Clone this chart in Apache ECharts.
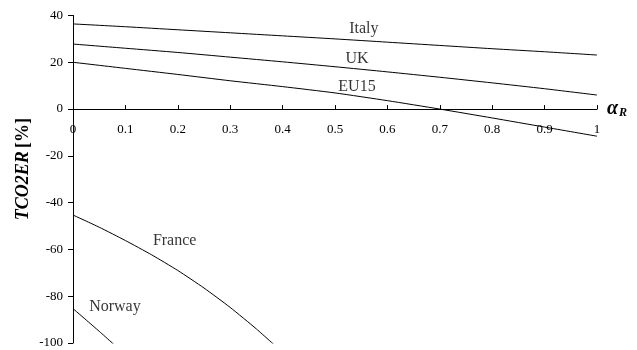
<!DOCTYPE html>
<html>
<head>
<meta charset="utf-8">
<script src="https://cdn.jsdelivr.net/npm/echarts@6/dist/echarts.min.js"></script>
<style>html,body{margin:0;padding:0;background:#fff}#c{width:637px;height:350px}</style>
</head>
<body>
<div id="c"></div>
<script>
// x values (alpha_R)
var xMain = [0, 0.1, 0.2, 0.3, 0.4, 0.5, 0.6, 0.7, 0.8, 0.9, 1.0];
var italy  = [36.4, 35.2, 33.9, 32.6, 31.3, 30.0, 28.6, 27.2, 25.8, 24.5, 23.1];
var uk     = [27.8, 26.0, 24.2, 22.2, 20.2, 18.1, 15.9, 13.6, 11.2, 8.7, 6.0];
var eu15   = [20.0, 17.4, 14.8, 12.1, 9.6, 6.9, 3.6, 0.0, -3.8, -7.7, -11.6];
var xFrance = [0, 0.05, 0.1, 0.15, 0.2, 0.25, 0.3, 0.35, 0.4];
var france  = [-45.3, -50.5, -56.2, -62.3, -69.0, -76.5, -84.8, -94.0, -104.0];
var xNorway = [0, 0.05, 0.1];
var norway  = [-85.3, -95.0, -105.0];

var labelNames = ['Italy', 'UK', 'EU15', 'France', 'Norway'];
var labelX = [0.555, 0.542, 0.542, 0.194, 0.080];
var labelY = [34.3, 21.5, 9.5, -56.5, -84.7];

var xTickLabels = ['0', '0.1', '0.2', '0.3', '0.4', '0.5', '0.6', '0.7', '0.8', '0.9', '1'];
var yTickLabels = ['-100', '-80', '-60', '-40', '-20', '0', '20', '40'];

function pairs(xs, ys) { return xs.map(function (x, i) { return [x, ys[i]]; }); }

var FONT = '"Liberation Serif", "Times New Roman", serif';
var lineStyle = { color: '#000', width: 1 };
function lineSeries(name, xs, ys) {
  return {
    name: name, type: 'line', data: pairs(xs, ys), showSymbol: false, symbol: 'none',
    smooth: 0.2, lineStyle: lineStyle, clip: true, silent: true
  };
}

var H = 350, GRID_BOTTOM = 7;
var chart = echarts.init(document.getElementById('c'), null, { renderer: 'canvas' });
chart.setOption({
  animation: false,
  backgroundColor: '#fff',
  grid: { left: 73, right: 40, top: 15.5, bottom: GRID_BOTTOM, containLabel: false, outerBoundsMode: 'none' },
  xAxis: {
    type: 'value', min: 0, max: 1, interval: 0.1,
    axisLine: { onZero: false, lineStyle: { color: '#000', width: 1 } },
    axisTick: { inside: true, length: 4, lineStyle: { color: '#000' } },
    splitLine: { show: false },
    axisLabel: {
      margin: 14, color: '#000', fontFamily: FONT, fontSize: 13,
      formatter: function (v) { return xTickLabels[Math.round(v * 10)]; }
    },
    name: '{a|α}{r|R}', nameLocation: 'end', nameGap: 10,
    nameTextStyle: {
      rich: {
        a: { fontFamily: FONT, fontSize: 20, fontWeight: 'bold', fontStyle: 'italic', color: '#000' },
        r: { fontFamily: FONT, fontSize: 12, fontWeight: 'bold', fontStyle: 'italic', color: '#000', padding: [8, 0, 0, 1] }
      }
    }
  },
  yAxis: {
    type: 'value', min: -100, max: 40, interval: 20,
    axisLine: { show: true, onZero: false, lineStyle: { color: '#000', width: 1 } },
    axisTick: { show: true, inside: false, length: 5, lineStyle: { color: '#000' } },
    splitLine: { show: false },
    axisLabel: {
      margin: 10, color: '#000', fontFamily: FONT, fontSize: 13,
      formatter: function (v) { return yTickLabels[Math.round((v + 100) / 20)]; }
    }
  },
  graphic: [{
    type: 'text', left: 14, top: 118, rotation: Math.PI / 2,
    style: {
      text: '{i|TCO2ER} {b|[%]}',
      rich: {
        i: { fontFamily: FONT, fontSize: 18, fontWeight: 'bold', fontStyle: 'italic', fill: '#000' },
        b: { fontFamily: FONT, fontSize: 18, fontWeight: 'bold', fill: '#000' }
      }
    }
  }],
  series: [
    lineSeries('Italy', xMain, italy),
    lineSeries('UK', xMain, uk),
    lineSeries('EU15', xMain, eu15),
    lineSeries('France', xFrance, france),
    lineSeries('Norway', xNorway, norway),
    {
      type: 'scatter', silent: true, symbolSize: 1,
      itemStyle: { color: 'rgba(0,0,0,0)' },
      data: labelNames.map(function (n, i) { return { name: n, value: [labelX[i], labelY[i]] }; }),
      label: {
        show: true, position: 'inside', formatter: '{b}',
        color: '#000', fontFamily: FONT, fontSize: 16
      }
    }
  ]
});
// place the x axis (line, ticks, labels) on y = 0 using the library's y scale
var zeroPx = chart.convertToPixel({ yAxisIndex: 0 }, 0);
chart.setOption({ xAxis: { offset: -((H - GRID_BOTTOM) - zeroPx) } });
</script>
</body>
</html>
